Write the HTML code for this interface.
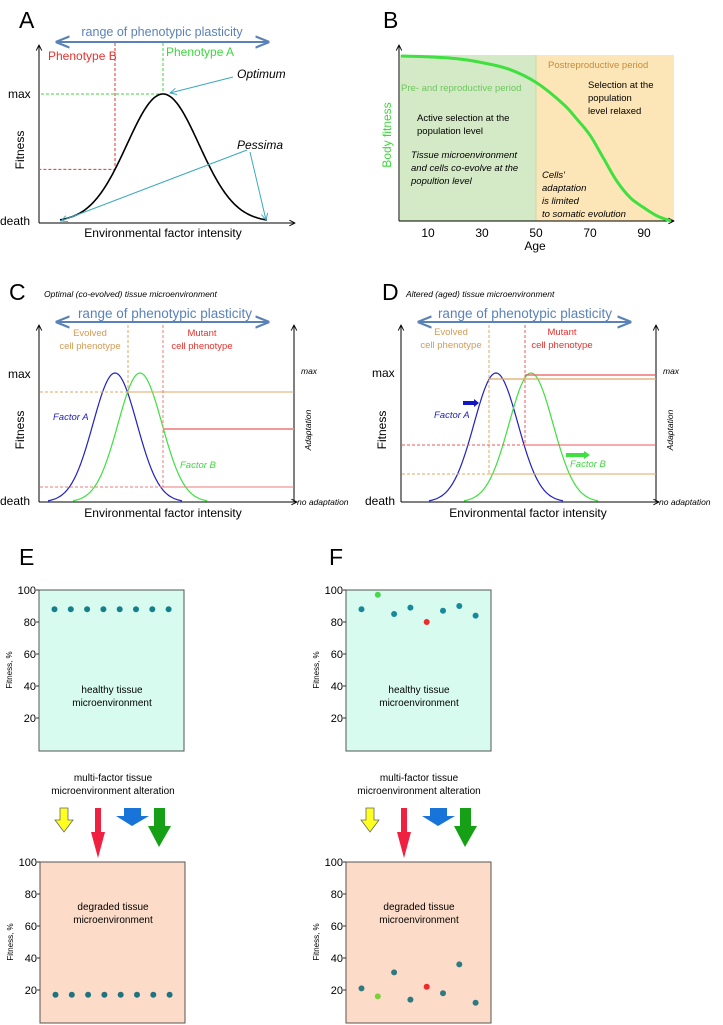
<!DOCTYPE html>
<html><head><meta charset="utf-8"><style>
html,body{margin:0;padding:0;background:#fff;}
svg{display:block;font-family:"Liberation Sans",Arial,sans-serif;}
</style></head><body>
<svg id="fig" width="723" height="1025" viewBox="0 0 723 1025" xmlns="http://www.w3.org/2000/svg">
<defs>
<marker id="ab" viewBox="0 0 10 10" refX="9" refY="5" markerWidth="7" markerHeight="7" orient="auto-start-reverse"><path d="M0,1 L10,5 L0,9" fill="none" stroke="#5b82b8" stroke-width="1.6"/></marker>
<marker id="ak" viewBox="0 0 10 10" refX="9" refY="5" markerWidth="7" markerHeight="7" orient="auto"><path d="M1,1 L9,5 L1,9" fill="none" stroke="#000" stroke-width="1.3"/></marker>
<marker id="at" viewBox="0 0 10 10" refX="9" refY="5" markerWidth="8" markerHeight="8" orient="auto"><path d="M1,1 L9,5 L1,9" fill="none" stroke="#3aa8c0" stroke-width="1.2"/></marker>
</defs>
<g id="A"></g>
<g id="B"></g>
<g id="C"></g>
<g id="D"></g>
<g id="E"></g>
<g id="F"></g>

<!-- Panel A text -->
<text x="19" y="28" font-size="23">A</text>
<text x="162" y="36" font-size="12.5" fill="#5b82b8" text-anchor="middle">range of phenotypic plasticity</text>
<text x="48" y="60" font-size="12" fill="#e8322e">Phenotype B</text>
<text x="166" y="56" font-size="12" fill="#3fd63f">Phenotype A</text>
<text x="237" y="78" font-size="12" font-style="italic">Optimum</text>
<text x="237" y="149" font-size="12" font-style="italic">Pessima</text>
<text x="8" y="98" font-size="12">max</text>
<text x="0" y="225" font-size="12">death</text>
<text transform="translate(24,150) rotate(-90)" font-size="12" text-anchor="middle">Fitness</text>
<text x="163" y="237" font-size="12" text-anchor="middle">Environmental factor intensity</text>

<!-- Panel B text -->
<text x="383" y="28" font-size="23">B</text>
<text x="548" y="68" font-size="9.5" fill="#c88a3a">Postreproductive period</text>
<text x="401" y="91" font-size="9.5" fill="#6fc75f">Pre- and reproductive period</text>
<g font-size="9.5">
<text x="588" y="88">Selection at the</text><text x="588" y="101">population</text><text x="588" y="114">level relaxed</text>
<text x="417" y="121">Active selection at the</text><text x="417" y="134">population level</text>
<g font-style="italic"><text x="411" y="158">Tissue microenvironment</text><text x="411" y="171">and cells co-evolve at the</text><text x="411" y="184">popultion level</text>
<text x="542" y="178">Cells'</text><text x="542" y="191">adaptation</text><text x="542" y="204">is limited</text><text x="542" y="217">to somatic evolution</text></g>
</g>
<text transform="translate(391,135) rotate(-90)" font-size="12" fill="#3fd63f" text-anchor="middle">Body fitness</text>
<text x="535" y="250" font-size="12" text-anchor="middle">Age</text>

<!-- Panel C text -->
<text x="9" y="300" font-size="23">C</text>
<text x="44" y="297" font-size="8.5" font-style="italic">Optimal (co-evolved) tissue microenvironment</text>
<text x="165" y="318" font-size="13.5" fill="#5b82b8" text-anchor="middle">range of phenotypic plasticity</text>
<text x="90" y="336" font-size="9.5" fill="#d49a55" text-anchor="middle">Evolved</text>
<text x="90" y="349" font-size="9.5" fill="#d49a55" text-anchor="middle">cell phenotype</text>
<text x="202" y="336" font-size="9.5" fill="#e8322e" text-anchor="middle">Mutant</text>
<text x="202" y="349" font-size="9.5" fill="#e8322e" text-anchor="middle">cell phenotype</text>
<text x="53" y="420" font-size="9.5" font-style="italic" fill="#2222bb">Factor A</text>
<text x="180" y="468" font-size="9.5" font-style="italic" fill="#3fd63f">Factor B</text>
<text x="8" y="378" font-size="12">max</text>
<text x="0" y="505" font-size="12">death</text>
<text transform="translate(24,430) rotate(-90)" font-size="12" text-anchor="middle">Fitness</text>
<text x="163" y="517" font-size="12" text-anchor="middle">Environmental factor intensity</text>
<text x="301" y="374" font-size="8.5" font-style="italic">max</text>
<text transform="translate(311,430) rotate(-90)" font-size="8.5" font-style="italic" text-anchor="middle">Adaptation</text>
<text x="297" y="505" font-size="8.5" font-style="italic">no adaptation</text>

<!-- Panel D text -->
<text x="382" y="300" font-size="23">D</text>
<text x="406" y="297" font-size="8.5" font-style="italic">Altered (aged) tissue microenvironment</text>
<text x="525" y="318" font-size="13.5" fill="#5b82b8" text-anchor="middle">range of phenotypic plasticity</text>
<text x="451" y="335" font-size="9.5" fill="#d49a55" text-anchor="middle">Evolved</text>
<text x="451" y="348" font-size="9.5" fill="#d49a55" text-anchor="middle">cell phenotype</text>
<text x="562" y="335" font-size="9.5" fill="#e8322e" text-anchor="middle">Mutant</text>
<text x="562" y="348" font-size="9.5" fill="#e8322e" text-anchor="middle">cell phenotype</text>
<text x="434" y="418" font-size="9.5" font-style="italic" fill="#2222bb">Factor A</text>
<text x="570" y="467" font-size="9.5" font-style="italic" fill="#3fd63f">Factor B</text>
<text x="372" y="377" font-size="12">max</text>
<text x="365" y="505" font-size="12">death</text>
<text transform="translate(386,430) rotate(-90)" font-size="12" text-anchor="middle">Fitness</text>
<text x="528" y="517" font-size="12" text-anchor="middle">Environmental factor intensity</text>
<text x="663" y="374" font-size="8.5" font-style="italic">max</text>
<text transform="translate(673,430) rotate(-90)" font-size="8.5" font-style="italic" text-anchor="middle">Adaptation</text>
<text x="659" y="505" font-size="8.5" font-style="italic">no adaptation</text>

<!-- E/F text -->
<text x="19" y="565" font-size="23">E</text>
<text x="329" y="565" font-size="23">F</text>
</svg>
<script>
// ---------- data ----------
const aCurve = {center:[163], sigma:[36]};
const phenoB = [115];
const bAges = [0,10,20,30,40,50,60,65,70,75,80,85,90,95,100];
const bFitness = [100,99.5,98.5,96,92,84,71,62,52,38,24,14,8,3,0];
const bTicks = [10,30,50,70,90];
const cCenters = [115,140];
const cSigma = [22];
const dCenters = [496,531];
const eTicks = [100,80,60,40,20];
const eTop = [88,88,88,88,88,88,88,88];
const eBottom = [17,17,17,17,17,17,17,17];
const fTop = [88,97,85,89,80,87,90,84];
const fBottom = [21,16,31,14,22,18,36,12];
const fTopColors = ['#168a9a','#4ad84a','#168a9a','#168a9a','#ee2a2a','#168a9a','#168a9a','#168a9a'];
const fBottomColors = ['#2f7a80','#7ad038','#2f7a80','#2f7a80','#ee2a2a','#2f7a80','#2f7a80','#2f7a80'];

const NS='http://www.w3.org/2000/svg';
function mk(parent,tag,attrs,name){
  const el=document.createElementNS(NS,tag);
  for(const k in attrs) el.setAttribute(k,attrs[k]);
  
  
  parent.appendChild(el);
  return el;
}
function txt(parent,x,y,s,size,anchor,name){
  const t=mk(parent,'text',{x:x,y:y,'font-size':size,'text-anchor':anchor},name);
  t.textContent=s;return t;
}
function gaussPath(c,s,x0,x1,yBase,yPeak){
  let d='';
  for(let x=x0;x<=x1;x+=1){
    const y=yBase-(yBase-yPeak)*Math.exp(-((x-c)*(x-c))/(2*s*s));
    d+=(d?'L':'M')+x.toFixed(1)+','+y.toFixed(1);
  }
  return d;
}
// ---------- Panel A ----------
(function(){
  const g=document.getElementById('A');
  const yB=222, yP=94;
  const ay=v=>yB-(yB-yP)*v;
  const gx=x=>Math.exp(-((x-aCurve.center[0])**2)/(2*aCurve.sigma[0]**2));
  mk(g,'line',{x1:57,y1:42,x2:268,y2:42,stroke:'#5b82b8','stroke-width':2,'marker-start':'url(#ab)','marker-end':'url(#ab)'},'plasticity-arrow-a');
  mk(g,'line',{x1:39,y1:223,x2:39,y2:45,stroke:'#000','stroke-width':1,'marker-end':'url(#ak)'},'a-y-axis');
  mk(g,'line',{x1:39,y1:223,x2:295,y2:223,stroke:'#000','stroke-width':1,'marker-end':'url(#ak)'},'a-x-axis');
  const pb=phenoB[0], pbY=ay(gx(pb));
  mk(g,'path',{d:`M${pb},43 L${pb},${pbY} L40,${pbY}`,fill:'none',stroke:'#e8322e','stroke-dasharray':'3,2','stroke-width':1},'phenotype-b-dash');
  const c=aCurve.center[0];
  mk(g,'path',{d:`M${c},43 L${c},${yP} L40,${yP}`,fill:'none',stroke:'#3fd63f','stroke-dasharray':'3,2','stroke-width':1},'phenotype-a-dash');
  mk(g,'path',{d:gaussPath(c,aCurve.sigma[0],60,267,yB,yP),fill:'none',stroke:'#000','stroke-width':1.6},'fitness-curve-a');
  mk(g,'line',{x1:233,y1:77,x2:170,y2:93,stroke:'#3aa8c0','stroke-width':1,'marker-end':'url(#at)'},'optimum-arrow');
  mk(g,'line',{x1:247,y1:150,x2:61,y2:221,stroke:'#3aa8c0','stroke-width':1,'marker-end':'url(#at)'},'pessima-arrow-left');
  mk(g,'line',{x1:250,y1:152,x2:266,y2:220,stroke:'#3aa8c0','stroke-width':1,'marker-end':'url(#at)'},'pessima-arrow-right');
})();
// ---------- Panel B ----------
(function(){
  const g=document.getElementById('B');
  const bx=a=>401+a*2.7, by=v=>221-v*1.65;
  mk(g,'rect',{x:400,y:55,width:bx(50)-400,height:166,fill:'#d4e9c6'},'reproductive-region');
  mk(g,'rect',{x:bx(50),y:55,width:674-bx(50),height:166,fill:'#fce6b8'},'postreproductive-region');
  mk(g,'line',{x1:bx(50),y1:55,x2:bx(50),y2:221,stroke:'#c8d8a8','stroke-width':1},'period-divider');
  mk(g,'line',{x1:399,y1:221,x2:399,y2:45,stroke:'#000','stroke-width':1,'marker-end':'url(#ak)'},'b-y-axis');
  mk(g,'line',{x1:399,y1:221,x2:674,y2:221,stroke:'#000','stroke-width':1,'marker-end':'url(#ak)'},'b-x-axis');
  let d='';
  const pts=bAges.map((a,i)=>[bx(a),by(bFitness[i])]);
  d='M'+pts[0][0]+','+pts[0][1];
  for(let i=0;i<pts.length-1;i++){
    const p0=pts[Math.max(0,i-1)],p1=pts[i],p2=pts[i+1],p3=pts[Math.min(pts.length-1,i+2)];
    const c1x=p1[0]+(p2[0]-p0[0])/6,c1y=p1[1]+(p2[1]-p0[1])/6;
    const c2x=p2[0]-(p3[0]-p1[0])/6,c2y=p2[1]-(p3[1]-p1[1])/6;
    d+=`C${c1x.toFixed(1)},${c1y.toFixed(1)} ${c2x.toFixed(1)},${c2y.toFixed(1)} ${p2[0].toFixed(1)},${p2[1].toFixed(1)}`;
  }
  mk(g,'path',{d:d,fill:'none',stroke:'#3fe03f','stroke-width':3},'body-fitness-curve');
  bTicks.forEach(t=>{txt(g,bx(t),237,String(t),12,'middle','age-tick-label');});
})();
// ---------- Panels C & D ----------
function panelCD(id,X0,centers,hl){
  const g=document.getElementById(id);
  const yB=502,yP=373,s=cSigma[0];
  const gy=(c,x)=>yB-(yB-yP)*Math.exp(-((x-c)**2)/(2*s*s));
  mk(g,'line',{x1:X0+57,y1:322,x2:X0+268,y2:322,stroke:'#5b82b8','stroke-width':2,'marker-start':'url(#ab)','marker-end':'url(#ab)'},'plasticity-arrow');
  mk(g,'line',{x1:X0+39,y1:502,x2:X0+39,y2:325,stroke:'#000','stroke-width':1,'marker-end':'url(#ak)'},'left-y-axis');
  mk(g,'line',{x1:X0+294,y1:502,x2:X0+294,y2:325,stroke:'#000','stroke-width':1,'marker-end':'url(#ak)'},'adaptation-axis');
  mk(g,'line',{x1:X0+39,y1:502,x2:X0+297,y2:502,stroke:'#000','stroke-width':1,'marker-end':'url(#ak)'},'x-axis');
  mk(g,'path',{d:gaussPath(centers[0],s,centers[0]-67,centers[0]+67,yB,yP),fill:'none',stroke:'#2222bb','stroke-width':1.2},'factor-a-curve');
  mk(g,'path',{d:gaussPath(centers[1],s,centers[1]-67,centers[1]+67,yB,yP),fill:'none',stroke:'#3fe03f','stroke-width':1.2},'factor-b-curve');
  hl.forEach(h=>{
    const yv=Math.min(gy(centers[0],h.x),gy(centers[1],h.x));
    mk(g,'line',{x1:h.x,y1:325,x2:h.x,y2:h.vy,stroke:h.col,'stroke-dasharray':'3,2','stroke-width':1},'phenotype-vertical-dash');
    h.levels.forEach(L=>{
      mk(g,'line',{x1:X0+40,y1:L,x2:h.x,y2:L,stroke:h.col,'stroke-dasharray':'3,2','stroke-width':1},'fitness-level-dash');
      mk(g,'line',{x1:h.x,y1:L,x2:X0+294,y2:L,stroke:h.col,'stroke-width':L===h.thick?1.6:1},'adaptation-level-line');
    });
  });
}
panelCD('C',0,cCenters,[
  {x:128,vy:392,col:'#dfa865',levels:[392],thick:0},
  {x:163,vy:487,col:'#ef7a7a',levels:[487],thick:0}
]);
(function(){const g=document.getElementById('C');
  mk(g,'line',{x1:163,y1:429,x2:294,y2:429,stroke:'#f08a8a','stroke-width':1.8},'mutant-adaptation-line');})();
panelCD('D',362,dCenters,[
  {x:489,vy:474,col:'#dfa865',levels:[474],thick:0},
  {x:525,vy:445,col:'#e85a5a',levels:[445],thick:0}
]);
(function(){const g=document.getElementById('D');
  mk(g,'line',{x1:489,y1:379,x2:656,y2:379,stroke:'#dfa865','stroke-width':1.2},'evolved-adaptation-line');
  mk(g,'line',{x1:525,y1:375,x2:656,y2:375,stroke:'#e85a5a','stroke-width':1.2},'mutant-adaptation-line');
  mk(g,'path',{d:'M463,401 L474,401 L474,399 L479,403 L474,407 L474,405 L463,405 Z',fill:'#1515c8'},'factor-a-shift-arrow');
  mk(g,'path',{d:'M566,453 L584,453 L584,451 L590,455 L584,459 L584,457 L566,457 Z',fill:'#3fe03f'},'factor-b-shift-arrow');
})();
// ---------- Panels E & F ----------
function scatterBox(g,X0,yTop,fill,vals,cols,label1,label2,labelY,r){
  const h=160;
  const sy=v=>yTop+h-v*1.6;
  mk(g,'rect',{x:X0,y:yTop,width:145,height:h+1,fill:fill,stroke:'#555','stroke-width':1},'tissue-box');
  eTicks.forEach(t=>{
    mk(g,'line',{x1:X0-3,y1:sy(t),x2:X0,y2:sy(t),stroke:'#333','stroke-width':1},'y-tick');
    txt(g,X0-3,sy(t)+4,String(t),11,'end','y-tick-label');
  });
  const lt=mk(g,'text',{transform:`translate(${X0-27},${yTop+80}) rotate(-90)`,'font-size':8,'text-anchor':'middle'},'y-axis-title');
  lt.textContent='Fitness, %';
  txt(g,X0+73,labelY,label1,10,'middle','box-label');
  txt(g,X0+73,labelY+13,label2,10,'middle','box-label');
  vals.forEach((v,i)=>{
    mk(g,'circle',{cx:X0+15.5+i*16.3,cy:sy(v),r:r,fill:cols[i]},'fitness-dot');
  });
}
function arrows(g,dx){
  txt(g,113+dx,781,'multi-factor tissue',10,'middle','alteration-label');
  txt(g,113+dx,794,'microenvironment alteration',10,'middle','alteration-label');
  mk(g,'path',{d:`M${60+dx},808 L${68+dx},808 L${68+dx},820 L${73+dx},820 L${64+dx},832 L${55+dx},820 L${60+dx},820 Z`,fill:'#ffff20',stroke:'#666','stroke-width':0.8},'yellow-factor-arrow');
  mk(g,'path',{d:`M${95+dx},808 L${101+dx},808 L${101+dx},832 L${105+dx},832 L${98+dx},858 L${91+dx},832 L${95+dx},832 Z`,fill:'#f02040'},'red-factor-arrow');
  mk(g,'path',{d:`M${124+dx},808 L${141+dx},808 L${141+dx},816 L${149+dx},816 L${132+dx},826 L${116+dx},816 L${124+dx},816 Z`,fill:'#1874d8'},'blue-factor-arrow');
  mk(g,'path',{d:`M${154+dx},808 L${165+dx},808 L${165+dx},826 L${171+dx},826 L${159+dx},847 L${148+dx},826 L${154+dx},826 Z`,fill:'#16a016'},'green-factor-arrow');
}
(function(){const g=document.getElementById('E');
  scatterBox(g,39,590,'#d8fbf0',eTop,eTop.map(()=> '#157f8c'),'healthy tissue','microenvironment',693,3);
  arrows(g,0);
  scatterBox(g,40,862,'#fcdcc8',eBottom,eBottom.map(()=> '#1f7380'),'degraded tissue','microenvironment',910,3);
})();
(function(){const g=document.getElementById('F');
  scatterBox(g,346,590,'#d8fbf0',fTop,fTopColors,'healthy tissue','microenvironment',693,3);
  arrows(g,306);
  scatterBox(g,346,862,'#fcdcc8',fBottom,fBottomColors,'degraded tissue','microenvironment',910,3);
})();
</script>
</body></html>
